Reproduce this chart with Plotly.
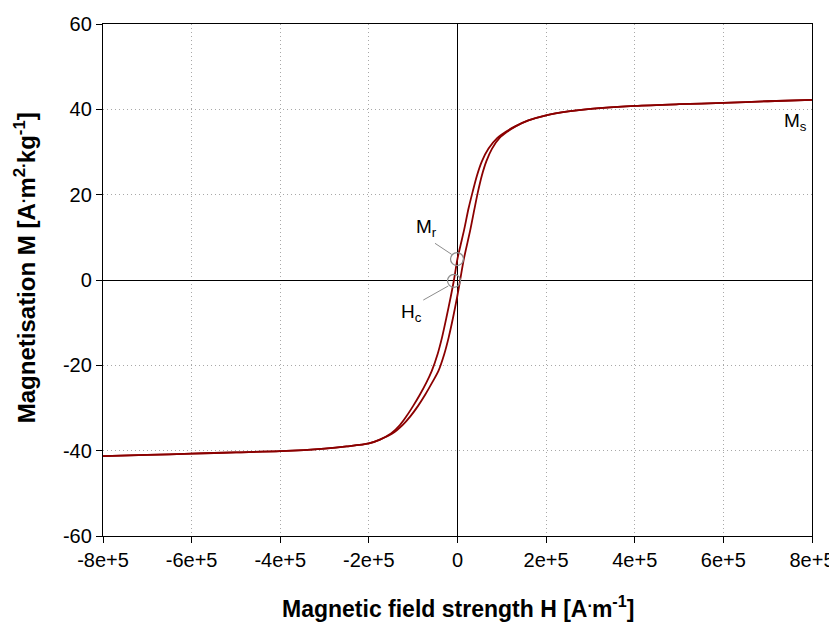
import plotly.graph_objects as go

# Descending branch (upper), H in A/m, M in A m^2/kg
H_down = [8e5, 7e5, 6e5, 5e5, 4e5, 3e5, 2.5e5, 2e5, 1.6e5, 1.3e5, 1.1e5, 9e4, 7e4, 5.5e4,
          4.4e4, 3.4e4, 2.5e4, 1.5e4, 7e3, 0, -8e3, -1.5e4, -2.5e4, -3.5e4, -4.5e4,
          -5.8e4, -7e4, -8.5e4, -1e5, -1.15e5, -1.3e5, -1.5e5, -1.75e5, -2e5, -2.5e5,
          -3e5, -4e5, -5e5, -6e5, -7e5, -8e5]
M_down = [42.2, 41.9, 41.5, 41.2, 40.8, 40.1, 39.5, 38.6, 37.4, 36.0, 34.8, 33.3, 30.8, 27.8,
          24.5, 20.6, 16.8, 11.8, 8.2, 5.0, 0.0, -3.8, -8.8, -13.5, -17.4,
          -21.3, -24.0, -26.9, -29.5, -31.9, -34.0, -36.0, -37.4, -38.3, -39.0,
          -39.5, -40.1, -40.4, -40.7, -41.0, -41.3]

# Ascending branch (lower)
H_up = [-8e5, -7e5, -6e5, -5e5, -4e5, -3e5, -2.5e5, -2e5, -1.75e5, -1.47e5, -1.24e5,
        -1.06e5, -8.9e4, -7.3e4, -5.7e4, -4.3e4, -3.0e4, -2.0e4, -1.0e4, -5e2, 6e3,
        1.45e4, 2.9e4, 3.85e4, 4.6e4, 5.5e4, 6.5e4, 7.8e4, 9.5e4, 1.13e5, 1.31e5, 1.6e5,
        2e5, 2.5e5, 3e5, 4e5, 5e5, 6e5, 7e5, 8e5]
M_up = [-41.3, -41.0, -40.7, -40.4, -40.1, -39.5, -39.0, -38.3, -37.4, -36.0, -34.0,
        -31.9, -29.5, -26.9, -24.0, -21.3, -17.4, -13.5, -8.8, -3.8, 0.0,
        5.0, 11.8, 16.8, 20.6, 24.5, 27.8, 30.8, 33.3, 34.8, 36.0, 37.4,
        38.6, 39.5, 40.1, 40.8, 41.2, 41.5, 41.9, 42.2]

# Marked points: remanence Mr and coercivity Hc
mark_H = [-1100, -7900]
mark_M = [4.9, -0.2]

x_tickvals = [-8e5, -6e5, -4e5, -2e5, 0, 2e5, 4e5, 6e5, 8e5]
x_ticktext = ["-8e+5", "-6e+5", "-4e+5", "-2e+5", "0", "2e+5", "4e+5", "6e+5", "8e+5"]
y_tickvals = [-60, -40, -20, 0, 20, 40, 60]
y_ticktext = ["-60", "-40", "-20", "0", "20", "40", "60"]

LINE = "#8b0000"
GREY = "#8c8c8c"
FONT = "Liberation Sans, Arial, sans-serif"

fig = go.Figure()
for hx, my in ((H_down, M_down), (H_up, M_up)):
    fig.add_trace(go.Scatter(x=hx, y=my, mode="lines",
                             line=dict(color=LINE, width=1.8, shape="spline", smoothing=0.8),
                             hoverinfo="skip"))
fig.add_trace(go.Scatter(x=mark_H, y=mark_M, mode="markers",
                         marker=dict(symbol="circle-open", size=13, color=GREY,
                                     line=dict(width=1.2, color=GREY)),
                         hoverinfo="skip"))

# leader lines
fig.add_shape(type="line", xref="x", yref="y", x0=-50800, y0=8.6, x1=-13100, y1=6.0,
              line=dict(color=GREY, width=1))
fig.add_shape(type="line", xref="x", yref="y", x0=-77200, y0=-4.7, x1=-20800, y1=-1.4,
              line=dict(color=GREY, width=1))

fig.add_annotation(x=-69500, y=12.1, text="M<sub>r</sub>", showarrow=False,
                   font=dict(family=FONT, size=19, color="black"))
fig.add_annotation(x=-103400, y=-7.8, text="H<sub>c</sub>", showarrow=False,
                   font=dict(family=FONT, size=19, color="black"))
fig.add_annotation(x=762000, y=37.1, text="M<sub>s</sub>", showarrow=False,
                   font=dict(family=FONT, size=19, color="black"))

# axis titles
fig.add_annotation(xref="paper", yref="paper", x=0.5, y=-0.139, yanchor="middle",
                   text="<b>Magnetic field strength H [A<sup>.</sup>m<sup>-1</sup>]</b>",
                   showarrow=False, font=dict(family=FONT, size=23, color="black"))
fig.add_annotation(xref="paper", yref="paper", x=-0.11, xanchor="center", y=0.523,
                   yanchor="middle", textangle=-90,
                   text="<b>Magnetisation M [A<sup>.</sup>m<sup>2.</sup>kg<sup>-1</sup>]</b>",
                   showarrow=False, font=dict(family=FONT, size=24, color="black"))

axis_common = dict(
    showline=True, linecolor="black", linewidth=1.3, mirror=True,
    ticks="outside", ticklen=6, tickcolor="black", automargin=False,
    showgrid=True, gridcolor="#a8a8a8", griddash="1px,3px", gridwidth=1,
    zeroline=True, zerolinecolor="black", zerolinewidth=1,
    tickfont=dict(family=FONT, size=20, color="black"),
)

fig.update_layout(
    width=829, height=616,
    margin=dict(l=95, r=25, t=16, b=88, autoexpand=False),
    plot_bgcolor="white", paper_bgcolor="white",
    showlegend=False,
    font=dict(family=FONT, size=19, color="black"),
    xaxis=dict(range=[-8e5, 8e5], tickvals=x_tickvals, ticktext=x_ticktext, **axis_common),
    yaxis=dict(range=[-60, 60], tickvals=y_tickvals, ticktext=y_ticktext, **axis_common),
)

fig.write_html("out.html")
